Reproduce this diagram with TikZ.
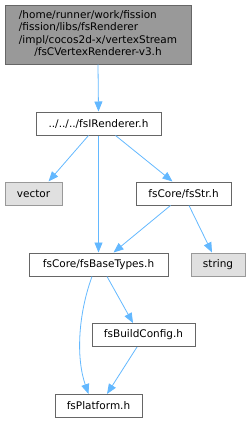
\documentclass[tikz,border=0pt]{standalone}
\usepackage{fontspec}
\setmainfont{DejaVu Sans}
\usetikzlibrary{arrows.meta}
\definecolor{edgeblue}{HTML}{63B8FF}
\definecolor{boxline}{HTML}{666666}
\definecolor{sysline}{HTML}{999999}
\definecolor{sysfill}{HTML}{E0E0E0}
\definecolor{rootfill}{HTML}{999999}
\tikzset{
  filebox/.style={
    draw = boxline,
    fill = white,
    line width = 1pt,
    inner sep = 0pt,
    minimum height = 23pt,
    font = \fontsize{10.5}{12.3}\selectfont
  },
  sysbox/.style={
    filebox,
    draw = sysline,
    fill = sysfill
  },
  rootbox/.style={
    filebox,
    fill = rootfill,
    minimum height = 59pt
  },
  dep/.style={
    draw = edgeblue,
    line width = 0.8pt,
    -{Triangle[width=8pt,length=10pt]}
  }
}
\begin{document}
\begin{tikzpicture}[x=1pt,y=-1pt]
  \useasboundingbox (0,0) rectangle (251,423);
  % files
  \node[rootbox, minimum width=186pt] (root) at (98,34.5) {%
    \begin{tabular}{@{}l@{}}
      /home/runner/work/fission\\
      /fission/libs/fsRenderer\\
      /impl/cocos2d-x/vertexStream\\
      \multicolumn{1}{@{}c@{}}{/fsCVertexRenderer-v3.h}
    \end{tabular}};
  \node[filebox, minimum width=125pt] (irend) at (98.5,123.5) {../../../fsIRenderer.h};
  \node[sysbox, minimum width=57pt] (vec) at (33.5,193.5) {vector};
  \node[filebox, minimum width=95pt] (str) at (183.5,193.5) {fsCore/fsStr.h};
  \node[filebox, minimum width=139pt] (base) at (98.5,264.5) {fsCore/fsBaseTypes.h};
  \node[sysbox, minimum width=54pt] (strg) at (218,264.5) {string};
  \node[filebox, minimum width=103pt] (build) at (143.5,335) {fsBuildConfig.h};
  \node[filebox, minimum width=87pt] (plat) at (98.5,406) {fsPlatform.h};
  % includes
  \draw[dep] (root.south) -- (irend.north);
  \draw[dep] ([xshift=-10pt]irend.south) -- ([xshift=15pt]vec.north);
  \draw[dep] (irend.south) -- (base.north);
  \draw[dep] ([xshift=17pt]irend.south) -- ([xshift=-11pt]str.north);
  \draw[dep] ([xshift=-13pt]str.south) -- ([xshift=15pt]base.north);
  \draw[dep] ([xshift=5.5pt]str.south) -- ([xshift=-6pt]strg.north);
  \draw[dep] ([xshift=8.5pt]base.south) -- ([xshift=-10.5pt]build.north);
  \draw[dep] ([xshift=-6.5pt]build.south) -- ([xshift=8.5pt]plat.north);
  \draw[dep] ([xshift=-6.5pt]base.south) .. controls (78,315) and (76,358) .. ([xshift=-10pt]plat.north);
\end{tikzpicture}
\end{document}
